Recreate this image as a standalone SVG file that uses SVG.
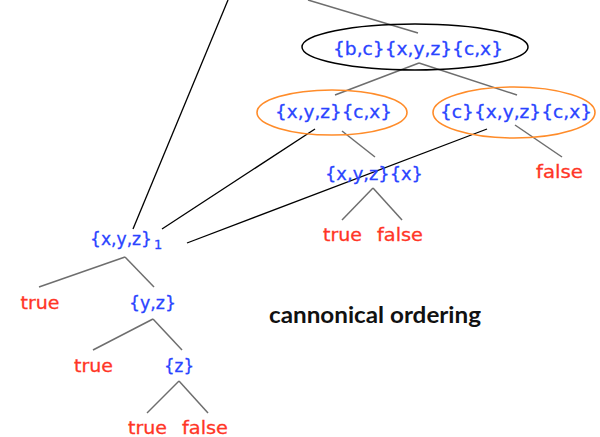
<svg xmlns="http://www.w3.org/2000/svg" width="600" height="437" viewBox="0 0 600 437">
<style>
.set{font-family:"DejaVu Sans","Liberation Sans",sans-serif;font-size:18px;fill:#2a44ff;stroke:#2a44ff;stroke-width:0.3;text-anchor:middle}
.val{font-family:"DejaVu Sans","Liberation Sans",sans-serif;font-size:18px;fill:#ff3526;stroke:#ff3526;stroke-width:0.3;text-anchor:middle}
.sub{font-family:"DejaVu Sans","Liberation Sans",sans-serif;font-size:13px;fill:#2a44ff;stroke:#2a44ff;stroke-width:0.3}
.title{font-family:Lato,"Liberation Sans",sans-serif;font-size:23px;font-weight:bold;fill:#111}
.g{stroke:#6e6e6e;stroke-width:1.5;fill:none}
.k{stroke:#000;stroke-width:1.3;fill:none}
.ob{fill:none;stroke:#000;stroke-width:1.5}
.oo{fill:none;stroke:#ff8c2a;stroke-width:1.6}
</style>
<rect width="600" height="437" fill="#fff"/>
<g id="connectors">
<line class="k" x1="228" y1="0" x2="133" y2="229"/>
<line class="g" x1="308" y1="0" x2="418" y2="33"/>
<line class="g" x1="419" y1="63" x2="335" y2="95"/>
<line class="g" x1="419" y1="63" x2="517" y2="95"/>
<line class="k" x1="315" y1="129" x2="162" y2="229"/>
<line class="k" x1="487" y1="129" x2="187" y2="243"/>
<line class="g" x1="342" y1="131" x2="375" y2="157"/>
<line class="g" x1="515" y1="125" x2="562" y2="157"/>
<line class="g" x1="373" y1="188" x2="342" y2="220"/>
<line class="g" x1="373" y1="188" x2="402" y2="220"/>
<line class="g" x1="125" y1="257" x2="39" y2="287"/>
<line class="g" x1="125" y1="257" x2="154" y2="287"/>
<line class="g" x1="153" y1="319" x2="93" y2="350"/>
<line class="g" x1="153" y1="319" x2="182" y2="350"/>
<line class="g" x1="179" y1="381" x2="147" y2="413"/>
<line class="g" x1="179" y1="381" x2="208" y2="413"/>
</g>
<g id="n-bcxyzcx">
<ellipse class="ob" cx="415" cy="47" rx="113" ry="23"/>
<text class="set" x="418" y="55" textLength="170" lengthAdjust="spacingAndGlyphs">{b,c}{x,y,z}{c,x}</text>
</g>
<g id="n-xyzcx">
<ellipse class="oo" cx="332" cy="112.5" rx="75" ry="22.5"/>
<text class="set" x="333.5" y="118" textLength="117" lengthAdjust="spacingAndGlyphs">{x,y,z}{c,x}</text>
</g>
<g id="n-cxyzcx">
<ellipse class="oo" cx="514" cy="112.5" rx="81" ry="25.5"/>
<text class="set" x="516" y="118" textLength="152" lengthAdjust="spacingAndGlyphs">{c}{x,y,z}{c,x}</text>
</g>
<g id="n-false-right">
<text class="val" x="559.5" y="178" textLength="47" lengthAdjust="spacingAndGlyphs">false</text>
</g>
<g id="n-xyzx">
<text class="set" x="374" y="180" textLength="98" lengthAdjust="spacingAndGlyphs">{x,y,z}{x}</text>
</g>
<g id="n-true-1">
<text class="val" x="342.5" y="241" textLength="39" lengthAdjust="spacingAndGlyphs">true</text>
</g>
<g id="n-false-1">
<text class="val" x="400" y="241" textLength="46" lengthAdjust="spacingAndGlyphs">false</text>
</g>
<g id="n-xyz1">
<text class="set" x="121" y="245" textLength="62" lengthAdjust="spacingAndGlyphs">{x,y,z}</text>
<text class="sub" x="154" y="249">1</text>
</g>
<g id="n-true-2">
<text class="val" x="40" y="309" textLength="39" lengthAdjust="spacingAndGlyphs">true</text>
</g>
<g id="n-yz">
<text class="set" x="152.5" y="309" textLength="47" lengthAdjust="spacingAndGlyphs">{y,z}</text>
</g>
<g id="n-true-3">
<text class="val" x="93.5" y="372" textLength="39" lengthAdjust="spacingAndGlyphs">true</text>
</g>
<g id="n-z">
<text class="set" x="179" y="372" textLength="30" lengthAdjust="spacingAndGlyphs">{z}</text>
</g>
<g id="n-true-4">
<text class="val" x="147.5" y="434" textLength="39" lengthAdjust="spacingAndGlyphs">true</text>
</g>
<g id="n-false-4">
<text class="val" x="205" y="434" textLength="46" lengthAdjust="spacingAndGlyphs">false</text>
</g>
<g id="caption">
<text class="title" x="269" y="323" textLength="212" lengthAdjust="spacingAndGlyphs">cannonical ordering</text>
</g>
</svg>
